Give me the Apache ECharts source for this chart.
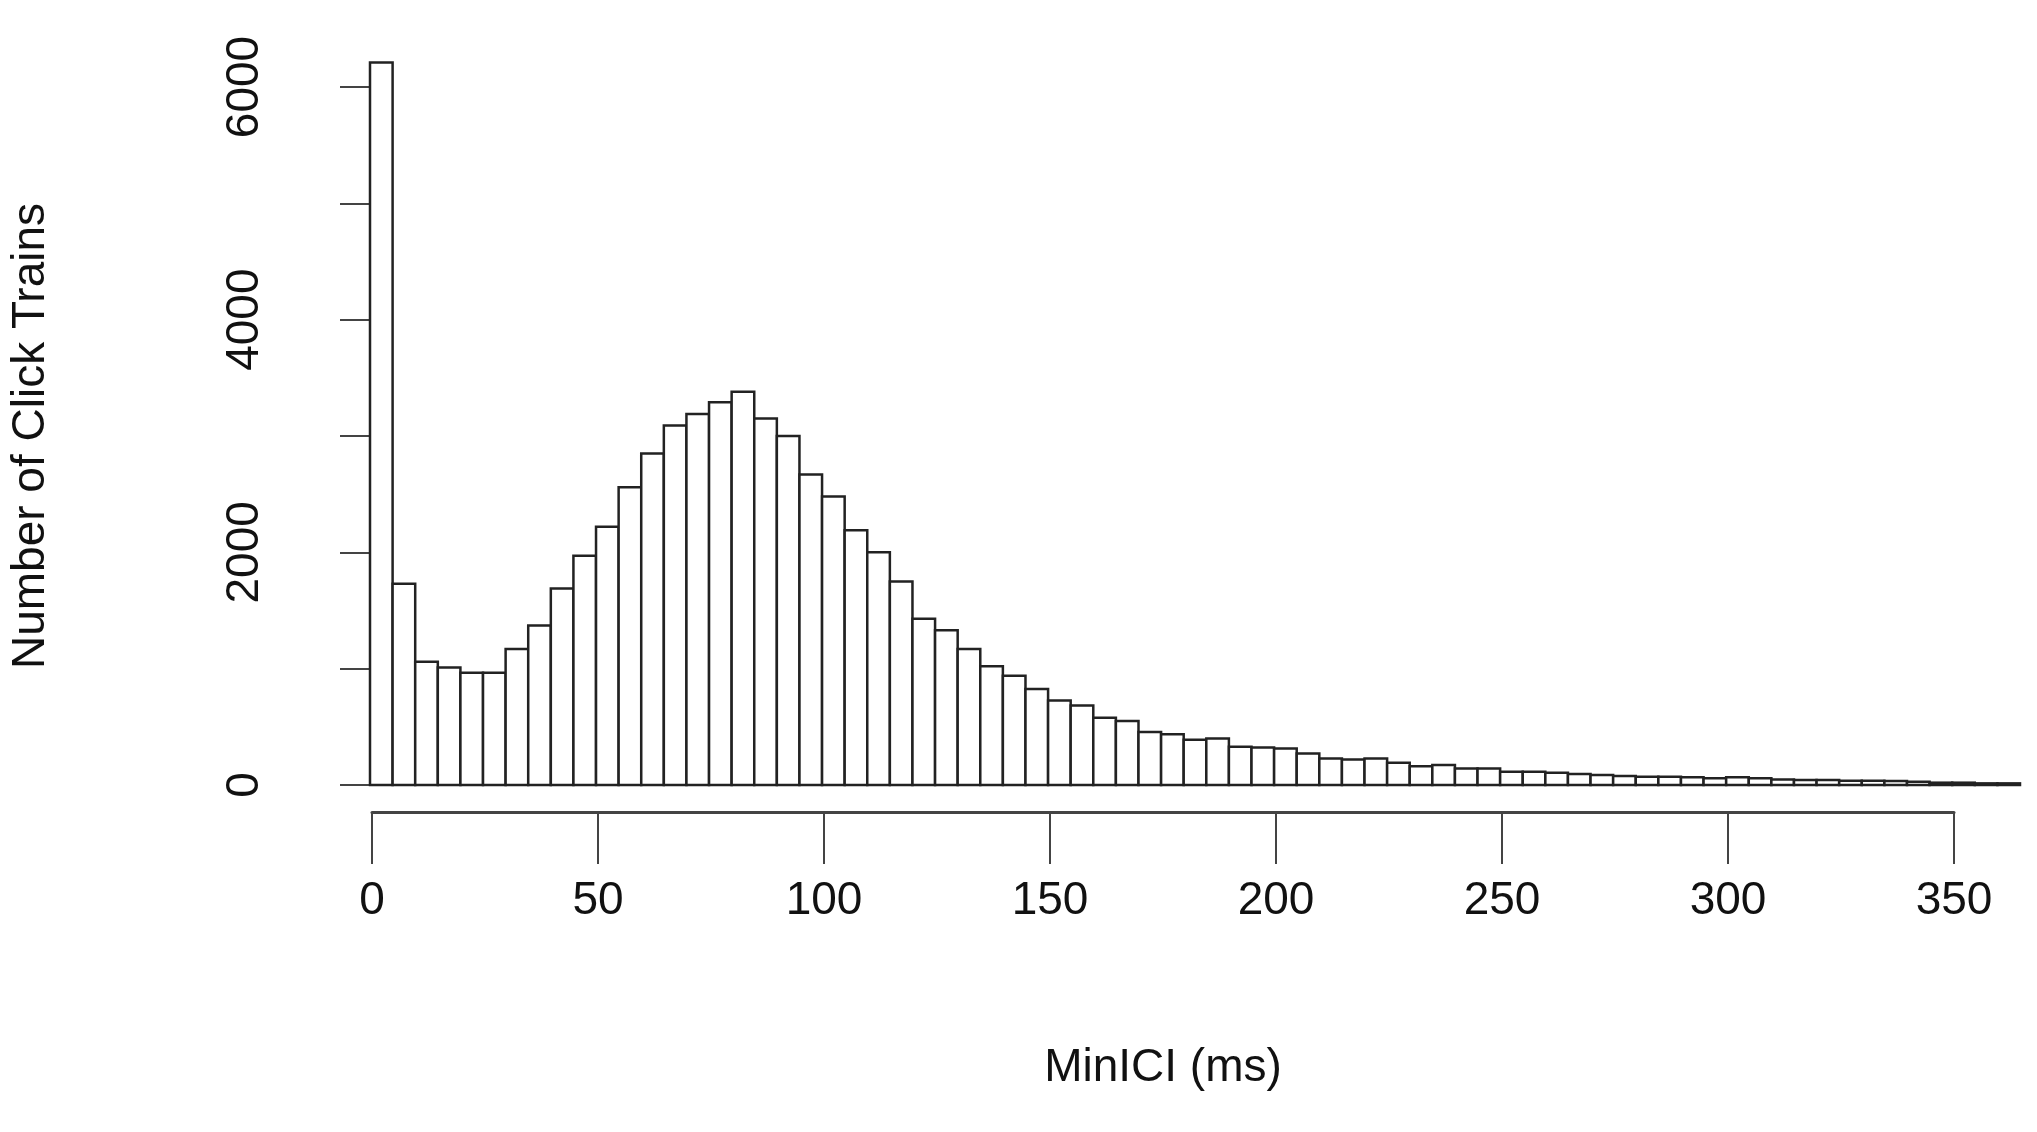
<!DOCTYPE html>
<html><head><meta charset="utf-8">
<script src="https://cdn.jsdelivr.net/npm/echarts@6/dist/echarts.min.js"></script>
<style>html,body{margin:0;padding:0;background:#fff}#c{width:2037px;height:1132px}</style>
</head><body><div id="c"></div>
<script>
const binStarts = [0,5,10,15,20,25,30,35,40,45,50,55,60,65,70,75,80,85,90,95,100,105,110,115,120,125,130,135,140,145,150,155,160,165,170,175,180,185,190,195,200,205,210,215,220,225,230,235,240,245,250,255,260,265,270,275,280,285,290,295,300,305,310,315,320,325,330,335,340,345,350,355,360];
const counts = [6210,1730,1060,1010,965,965,1170,1370,1690,1970,2220,2560,2850,3090,3190,3290,3380,3150,3000,2670,2480,2190,2000,1750,1430,1330,1170,1020,940,826,726,684,578,550,456,436,390,399,328,322,313,270,228,219,228,191,162,171,142,142,114,114,105,94,85,77,71,71,66,57,66,57,48,43,43,37,37,34,28,20,20,14,14];
const binWidth = 5;
const xTicks = [0,50,100,150,200,250,300,350];
const yTicks = [0,2000,4000,6000];

const chart = echarts.init(document.getElementById('c'));
const font = 'Liberation Sans, Arial, sans-serif';
const axisCol = '#444';
chart.setOption({
  animation:false,
  grid:[
    {left:370,right:17,top:87,bottom:347},
    {left:370,width:1584,top:87,bottom:347}
  ],
  xAxis:[
    {gridIndex:0,type:'value',min:0,max:365,show:false},
    {gridIndex:1,type:'value',min:0,max:350,interval:50,offset:27,
     axisLine:{show:true,onZero:false,lineStyle:{color:axisCol,width:3}},
     axisTick:{show:true,length:52,lineStyle:{color:axisCol,width:2}},
     splitLine:{show:false},
     axisLabel:{margin:66,fontSize:46,color:'#111',fontFamily:font},
     name:'MinICI (ms)',nameLocation:'middle',nameGap:233,
     nameTextStyle:{fontSize:46,color:'#111',fontFamily:font}}
  ],
  yAxis:[
    {gridIndex:0,type:'value',min:0,max:6000,show:false},
    {gridIndex:1,type:'value',min:0,max:6000,interval:1000,offset:60,
     axisLine:{show:true,lineStyle:{color:axisCol,width:2}},
     axisTick:{show:true,length:32,lineStyle:{color:axisCol,width:2}},
     splitLine:{show:false},
     axisLabel:{margin:44,fontSize:46,color:'#111',fontFamily:font,rotate:90,
       formatter:v=>yTicks.includes(v)?String(v):''},
     name:'Number of Click Trains',nameLocation:'middle',nameGap:258,
     nameTextStyle:{fontSize:46,color:'#111',fontFamily:font}}
  ],
  series:[{
    type:'custom',xAxisIndex:0,yAxisIndex:0,clip:false,
    data:binStarts.map((s,i)=>[s,counts[i]]),
    renderItem:function(params,api){
      const s=api.value(0), v=api.value(1);
      const p0=api.coord([s,v]), p1=api.coord([s+binWidth,0]);
      return {type:'rect',shape:{x:p0[0],y:p0[1],width:p1[0]-p0[0],height:p1[1]-p0[1]},
        style:{fill:'#fff',stroke:'#222',lineWidth:2.5}};
    }
  }]
});
</script></body></html>
